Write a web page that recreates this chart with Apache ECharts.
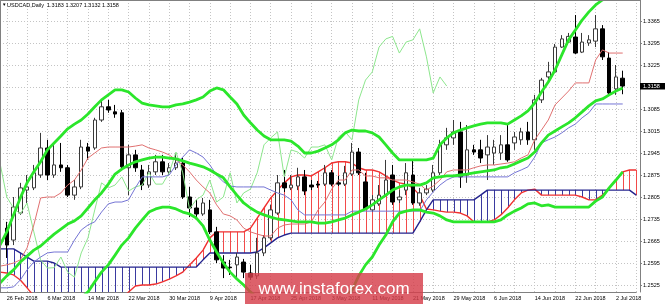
<!DOCTYPE html>
<html><head><meta charset="utf-8">
<script src="https://cdn.jsdelivr.net/npm/echarts@6/dist/echarts.min.js"></script>
<style>html,body{margin:0;padding:0;background:#fff}#c{width:665px;height:304px}</style>
</head><body><div id="c"></div>
<script>
const dates = ['23 Feb 2018',
'26 Feb 2018','27 Feb 2018','28 Feb 2018','1 Mar 2018','2 Mar 2018','5 Mar 2018','6 Mar 2018','7 Mar 2018','8 Mar 2018','9 Mar 2018',
'12 Mar 2018','13 Mar 2018','14 Mar 2018','15 Mar 2018','16 Mar 2018','19 Mar 2018','20 Mar 2018','21 Mar 2018','22 Mar 2018','23 Mar 2018',
'26 Mar 2018','27 Mar 2018','28 Mar 2018','29 Mar 2018','30 Mar 2018','2 Apr 2018','3 Apr 2018','4 Apr 2018','5 Apr 2018','6 Apr 2018',
'9 Apr 2018','10 Apr 2018','11 Apr 2018','12 Apr 2018','13 Apr 2018','16 Apr 2018','17 Apr 2018','18 Apr 2018','19 Apr 2018','20 Apr 2018',
'23 Apr 2018','24 Apr 2018','25 Apr 2018','26 Apr 2018','27 Apr 2018','30 Apr 2018','1 May 2018','2 May 2018','3 May 2018','4 May 2018',
'7 May 2018','8 May 2018','9 May 2018','10 May 2018','11 May 2018','14 May 2018','15 May 2018','16 May 2018','17 May 2018','18 May 2018',
'21 May 2018','22 May 2018','23 May 2018','24 May 2018','25 May 2018','28 May 2018','29 May 2018','30 May 2018','31 May 2018','1 Jun 2018',
'4 Jun 2018','5 Jun 2018','6 Jun 2018','7 Jun 2018','8 Jun 2018','11 Jun 2018','12 Jun 2018','13 Jun 2018','14 Jun 2018','15 Jun 2018',
'18 Jun 2018','19 Jun 2018','20 Jun 2018','21 Jun 2018','22 Jun 2018','25 Jun 2018','26 Jun 2018','27 Jun 2018','28 Jun 2018','29 Jun 2018',
'2 Jul 2018','3 Jul 2018','4 Jul 2018','5 Jul 2018'];

const open = [null,
1.2706,1.2668,1.2754,1.2827,1.2834,1.2875,1.2961,1.2875,1.2907,1.2898,
1.2811,1.2837,1.2964,1.2961,1.3050,1.3092,1.3076,1.3073,1.2898,1.2939,
1.2891,1.2843,1.2885,1.2917,1.2885,1.2898,1.2913,1.2805,1.2770,1.2751,
1.2764,1.2694,1.2598,1.2582,1.2589,1.2598,1.2563,1.2554,1.2627,1.2675,
1.2754,1.2850,1.2834,1.2840,1.2869,1.2843,1.2846,1.2846,1.2882,1.2850,
1.2846,1.2878,1.2948,1.2853,1.2764,1.2783,1.2811,1.2875,1.2796,1.2827,
1.2875,1.2786,1.2818,1.2827,1.2882,1.2971,1.2993,1.3012,1.2875,1.2955,
1.2955,1.2939,1.2945,1.2945,1.2971,1.2977,1.2987,1.3012,1.2987,1.3114,
1.3187,1.3203,1.3282,1.3298,1.3314,1.3266,1.3295,1.3301,1.3340,1.3247,
1.3149,1.3183,null,null];
const close = [null,
1.2652,1.2773,1.2834,1.2837,1.2882,1.2961,1.2875,1.2907,1.2898,1.2811,
1.2837,1.2964,1.2951,1.3050,1.3092,1.3082,1.3069,1.2901,1.2939,1.2898,
1.2843,1.2885,1.2917,1.2885,1.2898,1.2913,1.2805,1.2770,1.2751,1.2786,
1.2694,1.2605,1.2579,1.2580,1.2614,1.2566,1.2550,1.2627,1.2675,1.2764,
1.2850,1.2834,1.2843,1.2869,1.2824,1.2837,1.2843,1.2882,1.2846,1.2846,
1.2882,1.2948,1.2882,1.2767,1.2796,1.2811,1.2859,1.2789,1.2805,1.2882,
1.2786,1.2818,1.2830,1.2882,1.2971,1.2993,1.3012,1.2869,1.2955,1.2948,
1.2929,1.2964,1.2964,1.2971,1.2923,1.2996,1.3012,1.2987,1.3114,1.3177,
1.3203,1.3282,1.3308,1.3316,1.3263,1.3298,1.3305,1.3340,1.3251,1.3136,
1.3187,1.3158,null,null];
const high = [null,
1.2726,1.2805,1.2850,1.2875,1.2907,1.3009,1.2987,1.2971,1.2977,1.2907,
1.2859,1.2987,1.2977,1.3057,1.3114,1.3114,1.3098,1.3082,1.2971,1.2955,
1.2907,1.2907,1.2939,1.2939,1.2913,1.2945,1.2929,1.2837,1.2796,1.2802,
1.2796,1.2710,1.2620,1.2605,1.2627,1.2608,1.2589,1.2675,1.2684,1.2780,
1.2875,1.2891,1.2875,1.2898,1.2891,1.2859,1.2856,1.2907,1.2891,1.2872,
1.2904,1.2977,1.2961,1.2882,1.2811,1.2843,1.2923,1.2907,1.2827,1.2913,
1.2923,1.2834,1.2843,1.2907,1.2987,1.3025,1.3050,1.3044,1.3034,1.2971,
1.2987,1.3002,1.2987,1.3002,1.3037,1.3012,1.3025,1.3044,1.3130,1.3184,
1.3235,1.3292,1.3320,1.3327,1.3384,1.3327,1.3320,1.3384,1.3352,1.3266,
1.3225,1.3207,null,null];
const low = [null,
1.2611,1.2652,1.2748,1.2786,1.2827,1.2866,1.2859,1.2866,1.2885,1.2805,
1.2796,1.2830,1.2923,1.2955,1.3044,1.3073,1.3057,1.2891,1.2811,1.2885,
1.2827,1.2834,1.2875,1.2875,1.2875,1.2891,1.2799,1.2741,1.2738,1.2745,
1.2687,1.2595,1.2547,1.2557,1.2550,1.2547,1.2541,1.2544,1.2617,1.2668,
1.2748,1.2821,1.2827,1.2827,1.2811,1.2827,1.2834,1.2840,1.2840,1.2840,
1.2840,1.2872,1.2875,1.2764,1.2757,1.2777,1.2805,1.2780,1.2786,1.2811,
1.2780,1.2777,1.2811,1.2821,1.2875,1.2955,1.2971,1.2834,1.2850,1.2939,
1.2913,1.2859,1.2907,1.2923,1.2917,1.2955,1.2971,1.2971,1.2955,1.3104,
1.3177,1.3200,1.3279,1.3295,1.3260,1.3263,1.3286,1.3282,1.3241,1.3130,
1.3130,1.3132,null,null];

const tenkan = [1.2585,
1.2589,1.2595,1.2605,1.2643,1.2716,1.2802,1.2805,1.2805,1.2818,1.2843,
1.2859,1.2891,1.2929,1.2945,1.2961,1.2964,1.2964,1.2964,1.2964,1.2967,
1.2971,1.2961,1.2955,1.2948,1.2939,1.2923,1.2907,1.2885,1.2859,1.2837,
1.2818,1.2780,1.2751,1.2745,1.2732,1.2706,1.2694,1.2687,1.2681,1.2681,
1.2706,1.2716,1.2719,1.2719,1.2719,1.2726,1.2764,1.2789,1.2830,1.2859,
1.2859,1.2891,1.2891,1.2872,1.2872,1.2866,1.2866,1.2859,1.2859,1.2859,
1.2853,1.2846,1.2827,1.2840,1.2859,1.2885,1.2891,1.2891,1.2891,1.2898,
1.2904,1.2907,1.2907,1.2910,1.2913,1.2917,1.2929,1.2939,1.2987,1.3018,
1.3050,1.3098,1.3120,1.3142,1.3168,1.3168,1.3168,1.3241,1.3273,1.3263,
1.3263,1.3263,null,null];
const kijun = [1.2516,
1.2516,1.2519,1.2541,1.2573,1.2598,1.2614,1.2627,1.2630,1.2630,1.2630,
1.2668,1.2700,1.2716,1.2726,1.2757,1.2783,1.2789,1.2789,1.2796,1.2834,
1.2869,1.2869,1.2869,1.2869,1.2875,1.2907,1.2932,1.2955,1.2945,1.2932,
1.2907,1.2875,1.2853,1.2840,1.2837,1.2837,1.2837,1.2837,1.2837,1.2827,
1.2818,1.2811,1.2796,1.2764,1.2748,1.2748,1.2748,1.2748,1.2748,1.2748,
1.2748,1.2760,1.2760,1.2760,1.2760,1.2760,1.2760,1.2760,1.2760,1.2760,
1.2760,1.2760,1.2796,1.2821,1.2843,1.2859,1.2869,1.2869,1.2869,1.2869,
1.2869,1.2869,1.2869,1.2869,1.2869,1.2882,1.2891,1.2901,1.2932,1.2977,
1.2987,1.2996,1.3009,1.3025,1.3037,1.3057,1.3073,1.3101,1.3101,1.3101,
1.3101,1.3101,null,null];
const chikou = [1.2913,
1.2805,1.2770,1.2751,1.2786,1.2694,1.2605,1.2579,1.2580,1.2614,1.2566,
1.2550,1.2627,1.2675,1.2764,1.2850,1.2834,1.2843,1.2869,1.2824,1.2837,
1.2843,1.2882,1.2846,1.2846,1.2882,1.2948,1.2882,1.2767,1.2796,1.2811,
1.2859,1.2789,1.2805,1.2882,1.2786,1.2818,1.2830,1.2882,1.2971,1.2993,
1.3012,1.2869,1.2955,1.2948,1.2929,1.2964,1.2964,1.2971,1.2923,1.2996,
1.3012,1.2987,1.3114,1.3177,1.3203,1.3282,1.3308,1.3316,1.3263,1.3298,
1.3305,1.3340,1.3251,1.3136,1.3187,1.3158,
null,null,null,null,null,null,null,null,null,null,null,null,null,null,
null,null,null,null,null,null,null,null,null,null,null,null,null,null];
const spanA = [1.2566,
1.2563,1.2557,1.2541,1.2516,1.2490,1.2477,1.2461,1.2461,1.2461,1.2461,
1.2461,1.2461,1.2461,1.2461,1.2461,1.2461,1.2461,1.2484,1.2503,1.2522,
1.2525,1.2525,1.2528,1.2535,1.2544,1.2554,1.2566,1.2589,1.2611,1.2636,
1.2675,1.2694,1.2694,1.2694,1.2694,1.2694,1.2706,1.2738,1.2770,1.2802,
1.2827,1.2850,1.2869,1.2875,1.2875,1.2872,1.2885,1.2898,1.2913,1.2917,
1.2917,1.2913,1.2898,1.2891,1.2891,1.2885,1.2872,1.2859,1.2850,1.2846,
1.2834,1.2811,1.2767,1.2764,1.2760,1.2757,1.2757,1.2754,1.2745,1.2726,
1.2726,1.2726,1.2732,1.2748,1.2770,1.2796,1.2818,1.2827,1.2830,1.2811,
1.2811,1.2811,1.2811,1.2811,1.2811,1.2805,1.2796,1.2796,1.2811,1.2834,
1.2859,1.2885,1.2891,1.2891];
const spanB = [1.2640,
1.2640,1.2640,1.2627,1.2614,1.2601,1.2601,1.2601,1.2595,1.2582,1.2582,
1.2582,1.2582,1.2582,1.2582,1.2582,1.2582,1.2582,1.2582,1.2582,1.2582,
1.2582,1.2582,1.2582,1.2582,1.2582,1.2582,1.2582,1.2582,1.2582,1.2605,
1.2627,1.2627,1.2627,1.2627,1.2627,1.2627,1.2627,1.2630,1.2643,1.2659,
1.2675,1.2684,1.2690,1.2690,1.2690,1.2690,1.2690,1.2690,1.2690,1.2690,
1.2690,1.2690,1.2690,1.2690,1.2690,1.2690,1.2690,1.2690,1.2690,1.2690,
1.2690,1.2726,1.2764,1.2796,1.2796,1.2796,1.2796,1.2796,1.2796,1.2796,
1.2811,1.2827,1.2827,1.2827,1.2827,1.2827,1.2827,1.2827,1.2827,1.2827,
1.2827,1.2827,1.2827,1.2827,1.2827,1.2827,1.2827,1.2827,1.2827,1.2827,
1.2827,1.2827,1.2827,1.2811];
const bbUpper = [1.2652,
1.2694,1.2748,1.2802,1.2850,1.2885,1.2917,1.2955,1.2977,1.2999,1.3022,
1.3037,1.3050,1.3069,1.3092,1.3114,1.3130,1.3146,1.3146,1.3139,1.3120,
1.3104,1.3098,1.3095,1.3092,1.3092,1.3098,1.3101,1.3107,1.3114,1.3123,
1.3142,1.3152,1.3146,1.3123,1.3101,1.3066,1.3041,1.3018,1.2999,1.2987,
1.2987,1.2987,1.2983,1.2967,1.2945,1.2945,1.2951,1.2961,1.2971,1.2987,
1.3009,1.3018,1.3015,1.3015,1.3009,1.2996,1.2971,1.2945,1.2923,1.2923,
1.2923,1.2923,1.2923,1.2929,1.2971,1.2993,1.3009,1.3018,1.3025,1.3031,
1.3037,1.3041,1.3041,1.3041,1.3037,1.3050,1.3063,1.3079,1.3104,1.3139,
1.3171,1.3209,1.3257,1.3305,1.3336,1.3368,1.3394,1.3416,1.3432,1.3441,
1.3445,1.3448,null,null];
const bbMiddle = [1.2531,
1.2554,1.2573,1.2598,1.2617,1.2636,1.2649,1.2668,1.2687,1.2703,1.2719,
1.2729,1.2745,1.2770,1.2796,1.2818,1.2846,1.2878,1.2894,1.2907,1.2917,
1.2923,1.2929,1.2932,1.2932,1.2929,1.2926,1.2920,1.2913,1.2907,1.2901,
1.2891,1.2878,1.2866,1.2837,1.2811,1.2786,1.2770,1.2757,1.2748,1.2741,
1.2735,1.2732,1.2729,1.2726,1.2726,1.2726,1.2722,1.2722,1.2726,1.2732,
1.2738,1.2748,1.2757,1.2767,1.2780,1.2796,1.2811,1.2827,1.2837,1.2843,
1.2843,1.2843,1.2850,1.2866,1.2869,1.2872,1.2872,1.2875,1.2878,1.2882,
1.2885,1.2888,1.2891,1.2898,1.2901,1.2910,1.2920,1.2929,1.2948,1.2977,
1.3002,1.3015,1.3028,1.3041,1.3057,1.3076,1.3095,1.3111,1.3117,1.3130,
1.3142,1.3152,null,null];
const bbLower = [1.2390,
1.2400,1.2405,1.2410,1.2420,1.2425,1.2430,1.2440,1.2445,1.2455,1.2460,
1.2470,1.2485,1.2503,1.2535,1.2566,1.2589,1.2620,1.2652,1.2675,1.2706,
1.2732,1.2757,1.2767,1.2773,1.2773,1.2767,1.2757,1.2751,1.2738,1.2713,
1.2668,1.2630,1.2595,1.2566,1.2544,1.2525,1.2503,1.2484,1.2470,1.2462,
1.2458,1.2455,1.2452,1.2450,1.2450,1.2452,1.2455,1.2458,1.2462,1.2470,
1.2485,1.2509,1.2554,1.2589,1.2614,1.2652,1.2684,1.2726,1.2754,1.2760,
1.2764,1.2764,1.2757,1.2754,1.2745,1.2732,1.2726,1.2726,1.2726,1.2726,
1.2726,1.2726,1.2726,1.2732,1.2748,1.2760,1.2770,1.2783,1.2786,1.2777,
1.2780,1.2773,1.2773,1.2773,1.2773,1.2773,1.2773,1.2792,1.2805,1.2834,
1.2859,1.2885,null,null];

const yTicks = [1.2525,1.2595,1.2665,1.2735,1.2805,1.2875,1.2945,1.3015,1.3085,1.3155,1.3225,1.3295,1.3365];
const titleText = 'USDCAD,Daily  1.3183 1.3207 1.3132 1.3158';
const lastPrice = 1.3158;
const watermark = 'www.instaforex.com';

const FONT = '"Liberation Sans", Arial, sans-serif';
const RED = '#f03030', NAVY = '#24248e';
const chart = echarts.init(document.getElementById('c'), null, {renderer: 'canvas'});

const candles = dates.map((d, k) => open[k] == null ? '-' : [open[k], close[k], low[k], high[k]]);
const hatch = dates.map((d, k) => [k, spanA[k], spanB[k]]);

function lineSeries(name, data, color, width, z) {
  return {name, type: 'line', data, symbol: 'none', showSymbol: false, connectNulls: false,
    lineStyle: {color, width}, z, silent: true, animation: false};
}

chart.setOption({
  animation: false,
  backgroundColor: '#ffffff',
  grid: {left: -4.82, right: 28.74, top: 0, bottom: 12, containLabel: false},
  xAxis: {
    type: 'category', data: dates, boundaryGap: false,
    axisLine: {show: true, lineStyle: {color: '#808080', width: 1}},
    axisTick: {show: false},
    axisLabel: {
      interval: (idx) => idx >= 1 && (idx - 1) % 6 === 0,
      align: 'left', fontSize: 5.5, color: '#000', margin: 3, fontFamily: FONT
    },
    splitLine: {show: true, interval: (idx) => idx >= 1 && (idx - 1) % 3 === 0,
      lineStyle: {color: '#c4c4c4', type: [1, 2], width: 1}}
  },
  yAxis: {
    type: 'value', position: 'right', offset: 3.74,
    min: 1.250273, max: 1.343182, scale: true,
    axisLine: {show: true, lineStyle: {color: '#808080', width: 1}},
    axisTick: {show: true, length: 2, customValues: yTicks, lineStyle: {color: '#808080'}},
    axisLabel: {customValues: yTicks, formatter: (v) => v.toFixed(4), fontSize: 5.5, color: '#000', margin: 3, fontFamily: FONT},
    splitLine: {show: true, lineStyle: {color: '#c4c4c4', type: [1, 2], width: 1}}
  },
  series: [
    {
      name: 'cloud', type: 'custom', data: hatch, encode: {x: 0, y: [1, 2]}, z: 1, clip: true, silent: true,
      renderItem: (params, api) => {
        const a = api.value(1), b = api.value(2);
        if (a == null || b == null || isNaN(a) || isNaN(b)) return;
        const p1 = api.coord([api.value(0), a]);
        const p2 = api.coord([api.value(0), b]);
        const x = Math.round(p1[0]) + 0.5;
        return {type: 'line', shape: {x1: x, y1: p1[1], x2: x, y2: p2[1]},
          style: {stroke: a > b ? '#f24a4a' : '#3a3aa0', lineWidth: 1}};
      }
    },
    lineSeries('Senkou A', spanA, RED, 1.4, 2),
    lineSeries('Senkou B', spanB, NAVY, 1.4, 2),
    {
      name: 'USDCAD', type: 'candlestick', data: candles, barWidth: 4, z: 3, silent: true,
      itemStyle: {color: '#ffffff', color0: '#000000', borderColor: '#3a3a3a', borderColor0: '#000000', borderWidth: 1}
    },
    lineSeries('Chikou', chikou, '#8de68d', 1, 4),
    lineSeries('Tenkan', tenkan, '#e07070', 1, 4),
    lineSeries('Kijun', kijun, '#7474d4', 1, 4),
    lineSeries('BB upper', bbUpper, '#2be62b', 2.8, 5),
    lineSeries('BB middle', bbMiddle, '#2be62b', 2.8, 5),
    lineSeries('BB lower', bbLower, '#2be62b', 2.8, 5)
  ]
});

const py = chart.convertToPixel({yAxisIndex: 0}, lastPrice);
chart.setOption({
  graphic: [
    {type: 'line', id: 'bl', shape: {x1: 0.5, y1: 0, x2: 0.5, y2: 292}, style: {stroke: '#808080', lineWidth: 1}, z: 50, silent: true},
    {type: 'line', id: 'bt', shape: {x1: 0, y1: 0.5, x2: 640, y2: 0.5}, style: {stroke: '#808080', lineWidth: 1}, z: 50, silent: true},
    {type: 'text', id: 'tri', left: 2, top: 2, style: {text: '▼', fontSize: 4.5, fill: '#000', fontFamily: FONT}, z: 60, silent: true},
    {type: 'text', id: 'ttl', left: 7, top: 2, style: {text: titleText, fontSize: 5.5, fill: '#000', fontFamily: FONT}, z: 60, silent: true},
    {type: 'rect', id: 'pbox', shape: {x: 640, y: Math.round(py) - 3, width: 25, height: 6.5}, style: {fill: '#000'}, z: 60, silent: true},
    {type: 'text', id: 'ptxt', x: 643, y: py, style: {text: lastPrice.toFixed(4), fontSize: 5.5, fill: '#fff', fontFamily: FONT, verticalAlign: 'middle'}, z: 61, silent: true},
    {type: 'rect', id: 'wm', shape: {x: 245, y: 273, width: 178, height: 31}, style: {fill: 'rgba(214,62,74,0.82)'}, z: 70, silent: true},
    {type: 'text', id: 'wmt', x: 334, y: 289, style: {text: watermark, fontSize: 17, fill: '#ffffff', fontFamily: FONT, align: 'center', verticalAlign: 'middle'}, z: 71, silent: true}
  ]
});
</script></body></html>
